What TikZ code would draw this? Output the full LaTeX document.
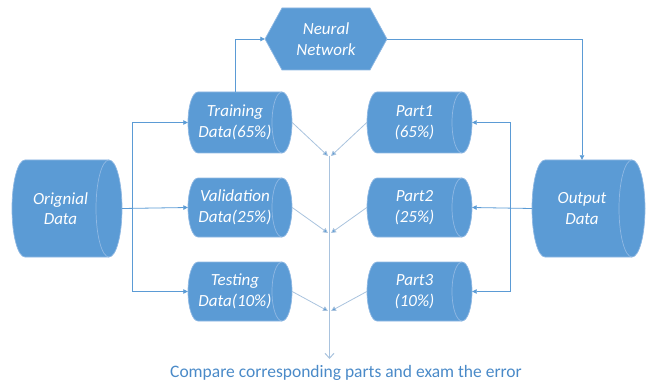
\documentclass[tikz,border=0pt]{standalone}
\usepackage{fontspec}
\setmainfont{Carlito}
\usetikzlibrary{arrows.meta}
\definecolor{cylfill}{HTML}{5B9BD5}
\definecolor{cylline}{HTML}{8FB8E3}
\definecolor{conn}{HTML}{5B9BD5}
\definecolor{diag}{HTML}{A9C3DE}
\definecolor{captxt}{HTML}{4A8AC8}
\tikzset{
  shapefill/.style={fill=cylfill, draw=cylline, line width=0.7pt},
  innerline/.style={draw=cylline, line width=0.7pt},
  boxtext/.style={text=white, font=\itshape\fontsize{17}{20.5}\selectfont, align=center, inner sep=0pt},
  conn/.style={draw=conn, line width=0.8pt},
  arr/.style={conn, -{Triangle[length=4.5pt,width=4.5pt]}},
  diagline/.style={draw=diag, line width=0.8pt, -{Triangle[length=5pt,width=5pt,fill=conn]}},
  mainline/.style={draw=diag, line width=1pt},
}
% name, L, T, R, B, b, text
\newcommand\cylbox[7]{%
  \pgfmathsetmacro\hh{(#5-#3)/2}%
  \path[shapefill] (#2+#6,#3) -- (#4-#6,#3)
     arc[start angle=90,end angle=-90,x radius=#6pt,y radius=\hh pt]
     -- (#2+#6,#5)
     arc[start angle=270,end angle=90,x radius=#6pt,y radius=\hh pt] -- cycle;
  \path[innerline] (#4-#6,#3) arc[start angle=90,end angle=270,x radius=#6pt,y radius=\hh pt];
  \node[minimum width=#4-#2, minimum height=#5-#3, inner sep=0pt] (#1) at ({(#2+#4)/2},{(#3+#5)/2}) {};
  \node[boxtext] at ({(#2+#4)/2-#6*0.5},{(#3+#5)/2}) {#7};
}
\begin{document}
\begin{tikzpicture}[x=1pt,y=-1pt]
\useasboundingbox (0,0) rectangle (648,385);
% hexagon
\path[shapefill] (265,39) -- (282,8) -- (370,8) -- (387,39) -- (370,70) -- (282,70) -- cycle;
\node[minimum width=122, minimum height=62, inner sep=0pt] (nn) at (326,39) {};
\node[boxtext] at (326,39) {Neural\\Network};
% cylinders
\cylbox{orig}{12}{160}{122}{257}{13}{Orignial\\Data}
\cylbox{train}{188}{92}{292}{153}{10}{Training\\Data(65\%)}
\cylbox{valid}{188}{178}{292}{237}{10}{Validation\\Data(25\%)}
\cylbox{test}{188}{262}{292}{321}{10}{Testing\\Data(10\%)}
\cylbox{p1}{367}{92}{472}{153}{10}{Part1\\(65\%)}
\cylbox{p2}{367}{178}{472}{237}{10}{Part2\\(25\%)}
\cylbox{p3}{367}{262}{472}{321}{10}{Part3\\(10\%)}
\cylbox{out}{532}{160}{645}{257}{13}{Output\\Data}
% junction coordinates
\coordinate (lb) at (132,207.5);
\coordinate (rb) at (510,207.5);
\coordinate (j1l) at (328,156);
\coordinate (j1r) at (331,156);
\coordinate (j2l) at (328,233);
\coordinate (j2r) at (331,233);
\coordinate (j3l) at (328,311);
\coordinate (j3r) at (331,311);
\coordinate (ctop) at (329.5,156);
\coordinate (cbot) at (329.5,359);
% top connectors
\draw[arr] (train.north -| 235,0) |- (nn.west);
\draw[arr] (nn.east) -| (out.north -| 582,0);
% left distribution
\draw[arr] (orig.east) -- (valid.west);
\draw[conn] (train.west -| lb) -- (test.west -| lb);
\draw[arr] (train.west -| lb) -- (train.west);
\draw[arr] (test.west -| lb) -- (test.west);
% right distribution
\draw[arr] (out.west) -- (p2.east);
\draw[conn] (p1.east -| rb) -- (p3.east -| rb);
\draw[arr] (p1.east -| rb) -- (p1.east);
\draw[arr] (p3.east -| rb) -- (p3.east);
% diagonals
\draw[diagline] (train.east) -- (j1l);
\draw[diagline] (p1.west) -- (j1r);
\draw[diagline] (valid.east) -- (j2l);
\draw[diagline] (p2.west) -- (j2r);
\draw[diagline] (test.east) -- (j3l);
\draw[diagline] (p3.west) -- (j3r);
% main down line
\draw[mainline, -{Straight Barb[length=5pt,width=9pt]}] (ctop) -- (cbot);
\node[text=captxt, font=\fontsize{17.5}{20}\selectfont, inner sep=0pt] (cap) at (346,373) {Compare corresponding parts and exam the error};
\end{tikzpicture}
\end{document}
